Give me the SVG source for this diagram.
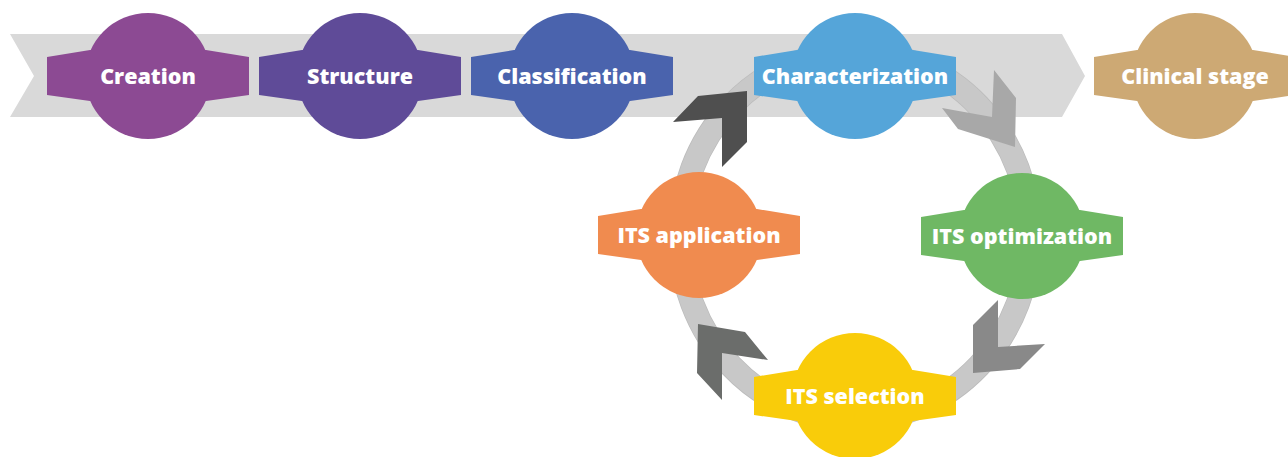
<svg xmlns="http://www.w3.org/2000/svg" width="1288" height="457" viewBox="0 0 1288 457">
<defs>
<style>
.lbl{font-family:"Open Sans","Liberation Sans",sans-serif;font-weight:800;font-size:21.5px;fill:#fff;text-anchor:middle}
</style>
<g id="nodeShape">
<circle cx="0" cy="0" r="63"/>
<polygon points="-101,-19 -58,-26 58,-26 101,-19 101,19 58,25 -58,25 -101,19"/>
</g>
</defs>
<rect width="1288" height="457" fill="#fff"/>
<polygon id="banner" points="10,34 1062,34 1085,76 1062,117 10,117 34,76" fill="#d9d9d9"/>
<g id="connectors">
<ellipse cx="855" cy="236" rx="175" ry="184" fill="none" stroke="#bcbcbc" stroke-width="24"/>
<ellipse cx="855" cy="236" rx="175" ry="184" fill="none" stroke="#c8c8c8" stroke-width="22.5"/>
<polygon points="747,91 698,96 673,122 722,118 722,167 747,142" fill="#4f4f4f"/>
<polygon points="1015,147 1016,98 994,70 992,117 942,108 958,129" fill="#a8a8a8"/>
<polygon points="998,300 973,325 973,373 1020,369 1045,344 998,347" fill="#898989"/>
<polygon points="698,324 745,332 768,360 722,353 722,400 697,373" fill="#6b6d6b"/>
</g>
<g id="creation"><use href="#nodeShape" x="148" y="76" fill="#8c4a93"/><text class="lbl" x="148" y="84">Creation</text></g>
<g id="structure"><use href="#nodeShape" x="360" y="76" fill="#5f4b98"/><text class="lbl" x="360" y="84">Structure</text></g>
<g id="classification"><use href="#nodeShape" x="572" y="76" fill="#4a63ad"/><text class="lbl" x="572" y="84">Classification</text></g>
<g id="characterization"><use href="#nodeShape" x="855" y="76" fill="#55a5d9"/><text class="lbl" x="855" y="84">Characterization</text></g>
<g id="clinical-stage"><use href="#nodeShape" x="1195" y="76" fill="#cda974"/><text class="lbl" x="1195" y="84">Clinical stage</text></g>
<g id="its-application"><use href="#nodeShape" x="699" y="235" fill="#f08b4f"/><text class="lbl" x="699" y="243">ITS application</text></g>
<g id="its-optimization"><use href="#nodeShape" x="1022" y="236" fill="#6fb864"/><text class="lbl" x="1022" y="244">ITS optimization</text></g>
<g id="its-selection"><use href="#nodeShape" x="855" y="396" fill="#f9cc0a"/><text class="lbl" x="855" y="404">ITS selection</text></g>
</svg>
